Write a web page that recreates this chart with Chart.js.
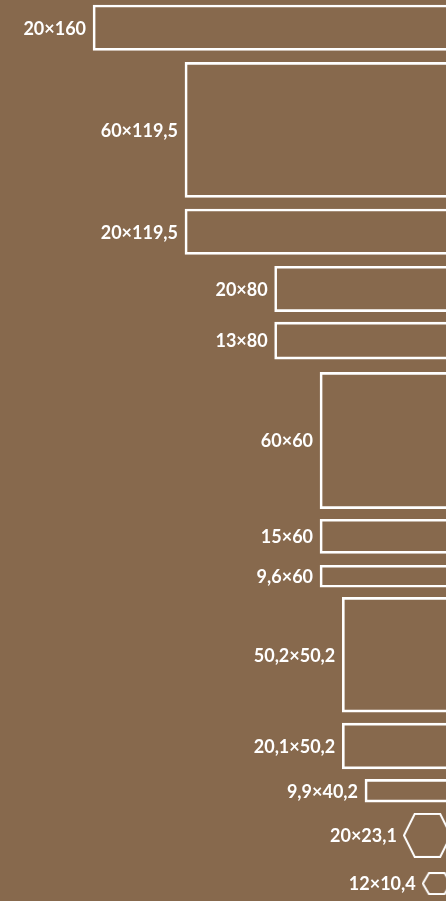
<!DOCTYPE html>
<html>
<head>
<meta charset="utf-8">
<title>Shapes</title>
<script src="https://cdn.jsdelivr.net/npm/chart.js@4.4.1/dist/chart.umd.min.js"></script>
<style>
    html, body { margin: 0; padding: 0; background: #87694d; overflow: hidden; }
    #shapesChart { display: block; }
</style>
</head>
<body>
<canvas id="shapesChart" width="446" height="901"></canvas>
<script>
// rectangles, top to bottom (units: the same on both axes)
var rectLabels = ['20×160', '60×119,5', '20×119,5', '20×80', '13×80', '60×60', '15×60', '9,6×60', '50,2×50,2', '20,1×50,2', '9,9×40,2'];
var rectWidths = [160, 119.5, 119.5, 80, 80, 60, 60, 60, 50.2, 50.2, 40.2];
var rectHeights = [20, 59.5, 20, 20, 16.3, 60, 15, 9.7, 50.5, 20.1, 10];
var rectCenters = [12.2, 57.2, 102.1, 127.3, 150.1, 194.1, 236.3, 253.9, 288.5, 328.7, 348.4];

// hexagons at the bottom
var hexLabels = ['20×23,1', '12×10,4'];
var hexWidths = [21.4, 13.2];
var hexHeights = [19.8, 10.1];
var hexCenters = [368.1, 389.3];

var RECT_RIGHT = 201;   // shapes are right-aligned just past the visible edge
var HEX_RIGHT = 199;
var X_MAX = 196.5;
var Y_MAX = 397;

var LINE = '#ffffff';

function hexagonImage(wPx, hPx) {
    var c = document.createElement('canvas');
    c.width = Math.round(wPx);
    c.height = Math.round(hPx);
    var g = c.getContext('2d');
    var w = c.width, h = c.height, t = 1, a = w * 0.24;
    g.strokeStyle = LINE;
    g.lineWidth = 2;
    g.beginPath();
    g.moveTo(t, h / 2);
    g.lineTo(a, t);
    g.lineTo(w - a, t);
    g.lineTo(w - t, h / 2);
    g.lineTo(w - a, h - t);
    g.lineTo(a, h - t);
    g.closePath();
    g.stroke();
    return c;
}

var shapeLabels = {
    id: 'shapeLabels',
    afterDatasetsDraw: function (chart) {
        var ctx = chart.ctx;
        ctx.save();
        ctx.font = 'bold 18px Lato';
        ctx.fillStyle = LINE;
        ctx.textAlign = 'right';
        ctx.textBaseline = 'middle';
        chart.data.datasets.forEach(function (ds, i) {
            chart.getDatasetMeta(i).data.forEach(function (el, j) {
                if (ds.type === 'scatter') {
                    var img = ds.pointStyle[j];
                    if (typeof img !== 'object') return;
                    ctx.fillText(hexLabels[j], el.x - img.width / 2 - 6, el.y + 1);
                } else {
                    ctx.fillText(ds.label, Math.min(el.x, el.base) - 7, el.y + 1);
                }
            });
        });
        ctx.restore();
    }
};

var datasets = rectLabels.map(function (label, i) {
    return {
        type: 'bar',
        label: label,
        data: [{x: [RECT_RIGHT - rectWidths[i], RECT_RIGHT], y: rectCenters[i]}],
        backgroundColor: 'rgba(0,0,0,0)',
        borderColor: LINE,
        borderWidth: 2,
        borderSkipped: false,
        grouped: false,
        clip: false,
        barThickness: 10
    };
});

datasets.push({
    type: 'scatter',
    label: 'hexagons',
    data: hexCenters.map(function (y, i) {
        return {x: HEX_RIGHT - hexWidths[i] / 2, y: y};
    }),
    pointStyle: ['circle', 'circle'],
    pointRadius: 1,
    pointHoverRadius: 0,
    pointBorderWidth: 0,
    pointBackgroundColor: 'rgba(0,0,0,0)',
    clip: false
});

function draw() {
    var chart = new Chart(document.getElementById('shapesChart'), {
        type: 'bar',
        data: {datasets: datasets},
        options: {
            indexAxis: 'y',
            responsive: false,
            devicePixelRatio: 1,
            animation: false,
            layout: {padding: 0, autoPadding: false},
            plugins: {legend: {display: false}, tooltip: {enabled: false}},
            scales: {
                x: {type: 'linear', min: 0, max: X_MAX, display: false, offset: false, grid: {display: false}},
                y: {type: 'linear', min: 0, max: Y_MAX, reverse: true, display: false, offset: false, grid: {display: false}}
            }
        },
        plugins: [shapeLabels]
    });

    // sizes in pixels come from the scales once they are laid out
    var xs = chart.scales.x, ys = chart.scales.y;
    var pxX = Math.abs(xs.getPixelForValue(1) - xs.getPixelForValue(0));
    var pxY = Math.abs(ys.getPixelForValue(1) - ys.getPixelForValue(0));
    chart.data.datasets.forEach(function (ds, i) {
        if (ds.type === 'bar') {
            ds.barThickness = rectHeights[i] * pxY;
        } else {
            ds.pointStyle = hexWidths.map(function (w, j) {
                return hexagonImage(w * pxX, hexHeights[j] * pxY);
            });
        }
    });
    chart.update('none');
}

if (document.fonts && document.fonts.load) {
    document.fonts.load('bold 18px Lato').then(draw, draw);
} else {
    draw();
}
</script>
</body>
</html>
